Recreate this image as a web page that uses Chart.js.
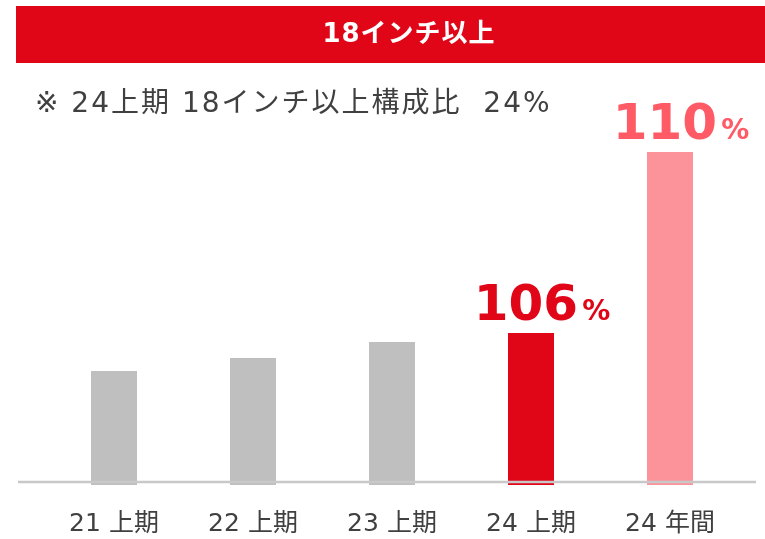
<!DOCTYPE html>
<html>
<head>
<meta charset="utf-8">
<script src="https://cdn.jsdelivr.net/npm/chart.js@4"></script>
<style>
  html, body { margin: 0; padding: 0; background: #fff; }
  #wrap { width: 765px; height: 539px; }
</style>
</head>
<body>
<div id="wrap"><canvas id="sizeChart" width="765" height="539"></canvas></div>
<script>
const labels = ["21 上期", "22 上期", "23 上期", "24 上期", "24 年間"];
const values = [114, 127, 143, 152, 333];
const growth = [null, null, null, "106", "110"];
const barColors = ["#BFBFBF", "#BFBFBF", "#BFBFBF", "#E00618", "#FC939B"];
const growthColors = [null, null, null, "#E00618", "#FF5B67"];

const headerTitle = "18インチ以上";
const noteText = "※ 24上期 18インチ以上構成比  24%";

const jpFont = "'DejaVu Sans', 'Noto Sans CJK JP', sans-serif";

// header bar, note line, axis line and growth labels
const decorations = {
    id: "decorations",
    beforeDraw(chart) {
        const c = chart.ctx;
        c.save();
        c.fillStyle = "#E00618";
        c.fillRect(16, 6, 749, 57);
        c.fillStyle = "#fff";
        c.font = "bold 26px " + jpFont;
        c.letterSpacing = "1px";
        c.textAlign = "center";
        c.textBaseline = "middle";
        c.fillText(headerTitle, 409, 35);

        c.fillStyle = "#404040";
        c.font = "28px " + jpFont;
        c.letterSpacing = "2px";
        c.textAlign = "left";
        c.fillText(noteText, 35, 105);
        c.restore();
    },
    afterDatasetsDraw(chart) {
        const c = chart.ctx;
        const meta = chart.getDatasetMeta(0);
        c.save();
        c.strokeStyle = "#C8C8C8";
        c.lineWidth = 2.5;
        c.beginPath();
        c.moveTo(18, 482);
        c.lineTo(756, 482);
        c.stroke();

        c.textBaseline = "alphabetic";
        c.textAlign = "left";
        meta.data.forEach((bar, i) => {
            if (!growth[i]) return;
            const big = "bold 50px 'DejaVu Sans', sans-serif";
            const small = "bold 28px 'DejaVu Sans', sans-serif";
            c.font = big;
            const w1 = c.measureText(growth[i]).width;
            c.font = small;
            const w2 = c.measureText("%").width;
            const total = w1 + 4 + w2;
            const x0 = bar.x + 11 - total / 2;
            const y = bar.y - 13;
            c.fillStyle = growthColors[i];
            c.font = big;
            c.fillText(growth[i], x0, y);
            c.font = small;
            c.fillText("%", x0 + w1 + 4, y);
        });
        c.restore();
    }
};

new Chart(document.getElementById("sizeChart"), {
    type: "bar",
    data: {
        labels: labels,
        datasets: [{
            data: values,
            backgroundColor: barColors,
            borderWidth: 0,
            categoryPercentage: 0.331,
            barPercentage: 1,
        }],
    },
    options: {
        responsive: false,
        animation: false,
        layout: {
            padding: { left: 44.5, right: 25.5, top: 100, bottom: 0 },
        },
        scales: {
            x: {
                grid: { display: false, drawTicks: false },
                border: { display: false },
                ticks: {
                    color: "#404040",
                    padding: 24,
                    font: { family: jpFont, size: 25 },
                },
                afterFit(scale) {
                    scale.height = 54;
                },
            },
            y: {
                display: false,
                min: 0,
                max: 385,
            },
        },
        plugins: {
            legend: { display: false },
            tooltip: { enabled: false },
        },
    },
    plugins: [decorations],
});
</script>
</body>
</html>
